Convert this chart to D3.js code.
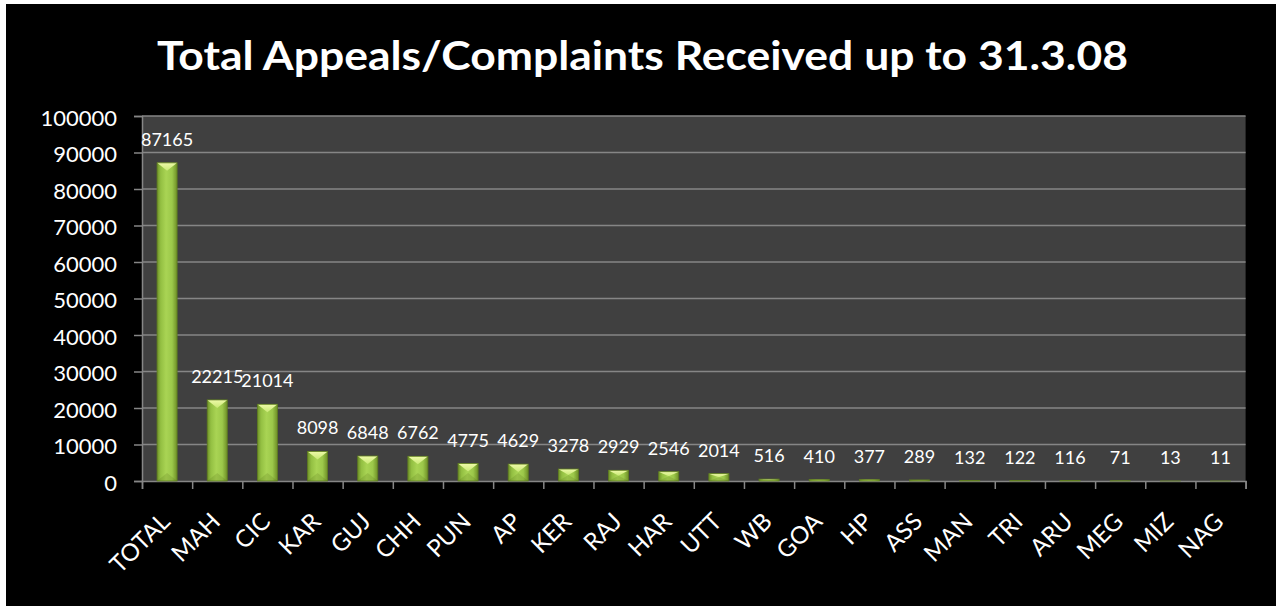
<!DOCTYPE html>
<html>
<head>
<meta charset="utf-8">
<script src="https://cdn.jsdelivr.net/npm/d3@7"></script>
<style>
html,body{margin:0;padding:0;background:#fff;}
svg{display:block;}
</style>
</head>
<body>
<svg id="chart" width="1276" height="606"></svg>
<script>
const categories = ["TOTAL","MAH","CIC","KAR","GUJ","CHH","PUN","AP","KER","RAJ","HAR","UTT","WB","GOA","HP","ASS","MAN","TRI","ARU","MEG","MIZ","NAG"];
const values = [87165,22215,21014,8098,6848,6762,4775,4629,3278,2929,2546,2014,516,410,377,289,132,122,116,71,13,11];
const yTicks = [0,10000,20000,30000,40000,50000,60000,70000,80000,90000,100000];
const title = "Total Appeals/Complaints Received up to 31.3.08";

const svg = d3.select("#chart");
const W = 1276, H = 606;
const m = {left:142, right:1245.6, top:116, bottom:481};
const font = "Lato, 'Open Sans', sans-serif";

svg.append("rect").attr("x",0).attr("y",0).attr("width",W).attr("height",H).attr("fill","#fff");
svg.append("rect").attr("x",6).attr("y",4).attr("width",W-6).attr("height",H-4).attr("fill","#000");

// defs
const defs = svg.append("defs");
const g1 = defs.append("linearGradient").attr("id","barGrad").attr("x1","0").attr("x2","1").attr("y1","0").attr("y2","0");
[["0%","#6f9128"],["18%","#93bf42"],["45%","#a9d454"],["75%","#9cc84a"],["100%","#6e8f27"]].forEach(s=>g1.append("stop").attr("offset",s[0]).attr("stop-color",s[1]));
const g2 = defs.append("linearGradient").attr("id","topGrad").attr("x1","0").attr("x2","0").attr("y1","0").attr("y2","1");
[["0%","#eefaa8"],["100%","#c8e874"]].forEach(s=>g2.append("stop").attr("offset",s[0]).attr("stop-color",s[1]));

const x = d3.scaleBand().domain(categories).range([m.left, m.right]).paddingInner(0).paddingOuter(0);
const xi = d3.scaleLinear().domain([0, categories.length]).range([m.left, m.right]);
const y = d3.scaleLinear().domain([0,100000]).range([m.bottom, m.top]);

// plot background
svg.append("rect").attr("x",m.left).attr("y",m.top).attr("width",m.right-m.left).attr("height",m.bottom-m.top).attr("fill","#404040");

// gridlines
svg.append("g").selectAll("line").data(yTicks.filter(d=>d>0)).join("line")
  .attr("x1",m.left).attr("x2",m.right).attr("y1",d=>y(d)).attr("y2",d=>y(d))
  .attr("stroke","#868686").attr("stroke-width",1.5);

// Title
svg.append("text").attr("x",642.5).attr("y",70).attr("text-anchor","middle")
  .attr("font-family",font).attr("font-weight","bold").attr("font-size",41).attr("fill","#fff")
  .attr("textLength",971).attr("lengthAdjust","spacingAndGlyphs").text(title);

// y axis
const yAxis = svg.append("g").attr("transform",`translate(${m.left},0)`)
  .call(d3.axisLeft(y).tickValues(yTicks).tickSize(8).tickPadding(17).tickFormat(d=>String(d)));
yAxis.select(".domain").attr("stroke","#868686").attr("stroke-width",1.5);
yAxis.selectAll(".tick line").attr("stroke","#868686").attr("stroke-width",1.5);
yAxis.selectAll(".tick text").attr("fill","#fff").attr("font-family",font).attr("font-size",22).attr("dy","0.42em");

// x axis (ticks at category boundaries)
const xAxis = svg.append("g").attr("transform",`translate(0,${m.bottom})`)
  .call(d3.axisBottom(xi).tickValues(d3.range(categories.length+1)).tickSize(8).tickFormat(""));
xAxis.select(".domain").attr("stroke","#868686").attr("stroke-width",1.5);
xAxis.selectAll(".tick line").attr("stroke","#868686").attr("stroke-width",1.5);

// bars
const bw = x.bandwidth()*0.4;
const bars = svg.append("g").selectAll("g").data(categories.map((c,i)=>({c, v:values[i]}))).join("g");
bars.append("rect")
  .attr("x",d=>x(d.c)+x.bandwidth()/2-bw/2).attr("width",bw)
  .attr("y",d=>y(d.v)).attr("height",d=>y(0)-y(d.v))
  .attr("fill","url(#barGrad)");
bars.append("path").attr("d",d=>{
    const x0 = x(d.c)+x.bandwidth()/2-bw/2, x1 = x0+bw, xc=(x0+x1)/2, yt=y(d.v), h=y(0)-yt;
    const th = Math.min(8, h/2);
    return `M${x0},${yt}L${x1},${yt}L${xc},${yt+th}Z`;
  }).attr("fill","url(#topGrad)");
bars.append("path").attr("d",d=>{
    const x0 = x(d.c)+x.bandwidth()/2-bw/2, x1 = x0+bw, xc=(x0+x1)/2, yt=y(d.v), yb=y(0), h=yb-yt;
    const th = Math.min(8, h/2);
    return `M${x0},${yb}L${x1},${yb}L${xc},${yb-th}Z`;
  }).attr("fill","rgba(60,80,10,0.15)");
bars.append("rect")
  .attr("x",d=>x(d.c)+x.bandwidth()/2-bw/2).attr("width",bw)
  .attr("y",d=>y(d.v)).attr("height",d=>y(0)-y(d.v))
  .attr("fill","none").attr("stroke","#5f7d20").attr("stroke-width",0.8);

// data labels
svg.append("g").selectAll("text").data(categories.map((c,i)=>({c, v:values[i]}))).join("text")
  .attr("x",d=>x(d.c)+x.bandwidth()/2).attr("y",d=>y(d.v)-17)
  .attr("text-anchor","middle").attr("font-family",font).attr("font-size",18).attr("fill","#fff")
  .text(d=>d.v);

// x labels
svg.append("g").selectAll("text").data(categories).join("text")
  .attr("transform",d=>`translate(${x(d)+x.bandwidth()/2+4.5},523) rotate(-45)`)
  .attr("text-anchor","end")
  .attr("font-family",font).attr("font-size",24).attr("fill","#fff")
  .text(d=>d);
</script>
</body>
</html>
